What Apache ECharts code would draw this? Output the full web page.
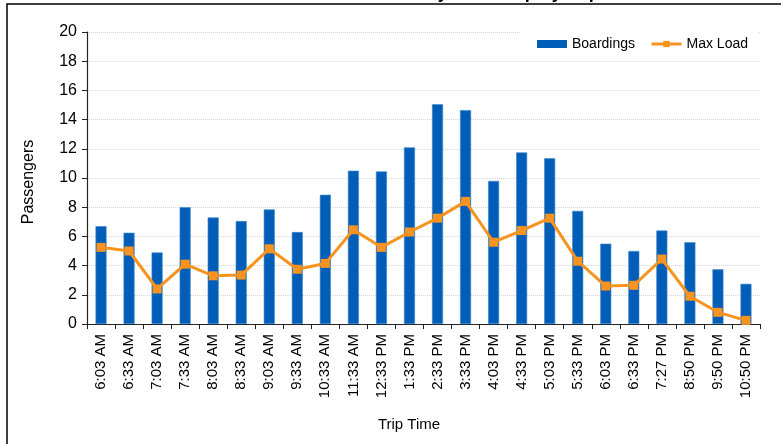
<!DOCTYPE html>
<html>
<head>
<meta charset="utf-8">
<script src="https://cdn.jsdelivr.net/npm/echarts@6/dist/echarts.min.js"></script>
<style>html,body{margin:0;padding:0;background:#fff;}#c{width:781px;height:444px;}</style>
</head>
<body>
<div id="c"></div>
<script>
var categories = ['6:03 AM','6:33 AM','7:03 AM','7:33 AM','8:03 AM','8:33 AM','9:03 AM','9:33 AM','10:33 AM','11:33 AM','12:33 PM','1:33 PM','2:33 PM','3:33 PM','4:03 PM','4:33 PM','5:03 PM','5:33 PM','6:03 PM','6:33 PM','7:27 PM','8:50 PM','9:50 PM','10:50 PM'];
var boardings = [6.7,6.25,4.9,8.0,7.3,7.05,7.85,6.3,8.85,10.5,10.45,12.1,15.05,14.65,9.8,11.75,11.35,7.75,5.5,5.0,6.4,5.6,3.75,2.75];
var maxLoad = [5.25,5.0,2.4,4.1,3.3,3.35,5.15,3.75,4.15,6.45,5.25,6.3,7.25,8.4,5.6,6.4,7.25,4.3,2.6,2.65,4.45,1.9,0.8,0.25];
var yTicks = [0,2,4,6,8,10,12,14,16,18,20];
var titleText = 'Weekday Ridership by Trip';

var FONT = '"Liberation Sans", Arial, sans-serif';
var chart = echarts.init(document.getElementById('c'), null, {renderer: 'canvas'});
chart.setOption({
  animation: false,
  backgroundColor: '#fff',
  textStyle: {fontFamily: FONT},
  graphic: [
    {type: 'rect', shape: {x: 7, y: 4, width: 900, height: 600}, style: {fill: 'none', stroke: '#000', lineWidth: 1.5}, silent: true, z: 100},
    {type: 'text', x: 485, y: -7, style: {text: titleText, font: 'bold 18px ' + FONT, fill: '#000', textAlign: 'center', textVerticalAlign: 'middle'}, silent: true},
    {type: 'text', x: 409, y: 425, style: {text: 'Trip Time', font: '15px ' + FONT, fill: '#000', textAlign: 'center', textVerticalAlign: 'middle'}, silent: true},
    {type: 'text', x: 29, y: 182, rotation: Math.PI / 2, style: {text: 'Passengers', font: '16px ' + FONT, fill: '#000', textAlign: 'center', textVerticalAlign: 'middle'}, silent: true}
  ],
  legend: {
    right: 23, top: 25,
    padding: [12, 10, 5, 16],
    backgroundColor: '#fff',
    itemGap: 15,
    itemWidth: 30, itemHeight: 8,
    textStyle: {fontSize: 14, color: '#000', fontFamily: FONT},
    data: [
      {name: 'Boardings', icon: 'rect', itemStyle: {borderWidth: 0}},
      {name: 'Max Load', lineStyle: {width: 3}}
    ]
  },
  grid: {left: 87, right: 21, top: 32, bottom: 120, containLabel: false},
  xAxis: {
    type: 'category',
    data: categories,
    boundaryGap: true,
    axisLine: {lineStyle: {color: '#222', width: 1.2}},
    axisTick: {show: true, alignWithLabel: false, length: 5, lineStyle: {color: '#222'}},
    axisLabel: {rotate: 90, interval: 0, margin: 10, fontSize: 15, color: '#000', fontFamily: FONT},
    splitLine: {show: false}
  },
  yAxis: {
    type: 'value',
    min: yTicks[0], max: yTicks[yTicks.length - 1], interval: 2,
    axisLine: {show: true, lineStyle: {color: '#222', width: 1.2}},
    axisTick: {show: true, inside: false, length: 5, lineStyle: {color: '#222'}},
    axisLabel: {margin: 10, fontSize: 16, color: '#000', fontFamily: FONT},
    splitLine: {show: true, lineStyle: {color: '#d6d6d6', type: 'dotted', width: 1}}
  },
  series: [
    {
      name: 'Boardings', type: 'bar', data: boardings, barWidth: 11,
      itemStyle: {color: '#005EB8', borderColor: '#3d86cc', borderWidth: 0.6}
    },
    {
      name: 'Max Load', type: 'line', data: maxLoad,
      symbol: 'rect', symbolSize: 9,
      lineStyle: {color: '#F7931E', width: 3},
      itemStyle: {color: '#F7931E'},
      z: 3
    }
  ]
});
</script>
</body>
</html>
